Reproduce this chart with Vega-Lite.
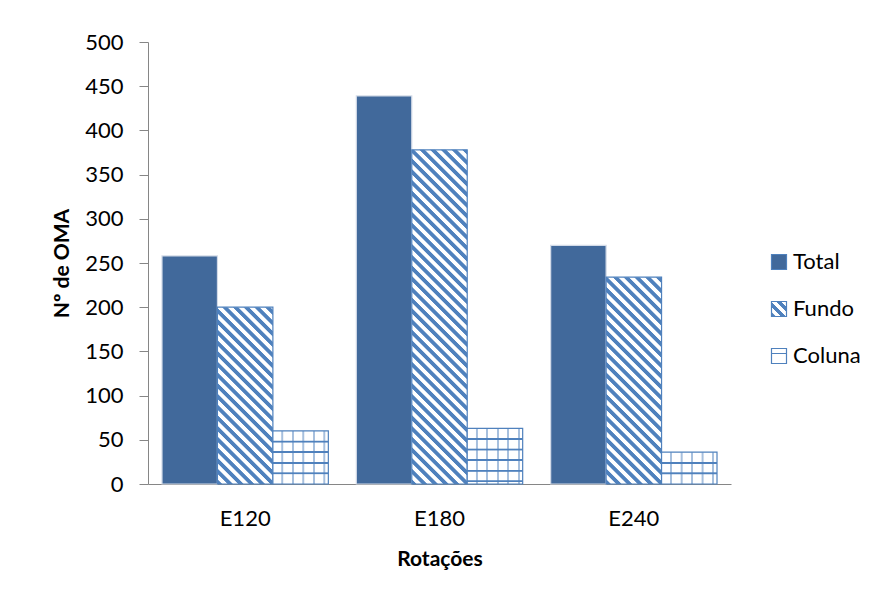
{
  "$schema": "https://vega.github.io/schema/vega-lite/v6.json",
  "width": 583,
  "height": 442,
  "autosize": {"type": "none"},
  "padding": {"left": 148, "top": 42, "right": 150, "bottom": 114},
  "background": "#ffffff",
  "config": {
    "view": {"stroke": null},
    "font": "Lato",
    "axis": {
      "domainColor": "#868686",
      "domainWidth": 1,
      "tickColor": "#868686",
      "labelColor": "#000000",
      "labelFont": "Lato",
      "labelFontSize": 22,
      "titleColor": "#000000",
      "titleFont": "Lato",
      "titleFontSize": 21,
      "titleFontWeight": "bold",
      "grid": false
    }
  },
  "data": {
    "values": [
      {"Rotacao": "E120", "Serie": "Total", "OMA": 258},
      {"Rotacao": "E120", "Serie": "Fundo", "OMA": 200},
      {"Rotacao": "E120", "Serie": "Coluna", "OMA": 60},
      {"Rotacao": "E180", "Serie": "Total", "OMA": 439},
      {"Rotacao": "E180", "Serie": "Fundo", "OMA": 378},
      {"Rotacao": "E180", "Serie": "Coluna", "OMA": 63},
      {"Rotacao": "E240", "Serie": "Total", "OMA": 270},
      {"Rotacao": "E240", "Serie": "Fundo", "OMA": 234},
      {"Rotacao": "E240", "Serie": "Coluna", "OMA": 36}
    ]
  },
  "encoding": {
    "x": {
      "field": "Rotacao",
      "type": "nominal",
      "sort": ["E120", "E180", "E240"],
      "scale": {"paddingInner": 0.144, "paddingOuter": 0.072},
      "axis": {
        "title": "Rotações",
        "labelAngle": 0,
        "ticks": false,
        "tickSize": 0,
        "labelPadding": 24,
        "titlePadding": 19
      }
    },
    "xOffset": {
      "field": "Serie",
      "type": "nominal",
      "sort": ["Total", "Fundo", "Coluna"],
      "scale": {"paddingInner": 0, "paddingOuter": 0}
    },
    "y": {
      "field": "OMA",
      "type": "quantitative",
      "scale": {"domain": [0, 500], "nice": false},
      "axis": {
        "title": "Nº de OMA",
        "values": [0, 50, 100, 150, 200, 250, 300, 350, 400, 450, 500],
        "tickSize": 9,
        "labelPadding": 16,
        "titlePadding": 12
      }
    }
  },
  "layer": [
    {
      "mark": {"type": "bar", "strokeWidth": 1.2},
      "encoding": {
        "stroke": {
          "condition": {"test": "datum.Serie === 'Total'", "value": "#d3dbe8"},
          "value": "#4f81bd"
        },
        "fill": {
          "field": "Serie",
          "type": "nominal",
          "sort": ["Total", "Fundo", "Coluna"],
          "scale": {
            "domain": ["Total", "Fundo", "Coluna"],
            "range": [
              "#41699b",
              {"expr": "{gradient: 'linear', x1: 0, y1: 1, x2: 1, y2: 0, stops: [{offset: 0, color: '#4f81bd'}, {offset: 0.13, color: '#4f81bd'}, {offset: 0.17, color: '#ffffff'}, {offset: 0.3, color: '#ffffff'}, {offset: 0.333, color: '#4f81bd'}, {offset: 0.467, color: '#4f81bd'}, {offset: 0.5, color: '#ffffff'}, {offset: 0.633, color: '#ffffff'}, {offset: 0.667, color: '#4f81bd'}, {offset: 0.8, color: '#4f81bd'}, {offset: 0.833, color: '#ffffff'}, {offset: 0.967, color: '#ffffff'}, {offset: 1, color: '#4f81bd'}]}"},
              {"expr": "{gradient: 'linear', x1: 0, y1: 0, x2: 0, y2: 1, stops: [{offset: 0, color: '#ffffff'}, {offset: 0.28, color: '#ffffff'}, {offset: 0.3, color: '#4f81bd'}, {offset: 0.38, color: '#4f81bd'}, {offset: 0.4, color: '#ffffff'}, {offset: 1, color: '#ffffff'}]}"}
            ]
          },
          "legend": {
            "title": null,
            "orient": "none",
            "legendX": 620,
            "legendY": 209,
            "padding": 0,
            "symbolType": "square",
            "symbolSize": 225,
            "symbolStrokeWidth": 1.2,
            "labelFont": "Lato",
            "labelFontSize": 22,
            "labelColor": "#000000",
            "labelOffset": 3,
            "rowPadding": 25,
            "encode": {
              "symbols": {
                "stroke": {
                  "condition": {"test": "datum.value === 'Total'", "value": "#41699b"},
                  "value": "#4f81bd"
                },
                "strokeWidth": {"value": 1.2}
              }
            }
          },
          "condition": [
            {"test": "datum.Serie === 'Fundo' && datum.Rotacao === 'E120'", "value": {"gradient": "linear", "x1": 0, "y1": 1, "x2": 0.4317, "y2": -0.3778, "stops": [
              {"offset": 0, "color": "#4f81bd"}, {"offset": 0.016, "color": "#4f81bd"}, {"offset": 0.02, "color": "#ffffff"}, {"offset": 0.036, "color": "#ffffff"},
              {"offset": 0.04, "color": "#4f81bd"}, {"offset": 0.056, "color": "#4f81bd"}, {"offset": 0.06, "color": "#ffffff"}, {"offset": 0.076, "color": "#ffffff"},
              {"offset": 0.08, "color": "#4f81bd"}, {"offset": 0.096, "color": "#4f81bd"}, {"offset": 0.1, "color": "#ffffff"}, {"offset": 0.116, "color": "#ffffff"},
              {"offset": 0.12, "color": "#4f81bd"}, {"offset": 0.136, "color": "#4f81bd"}, {"offset": 0.14, "color": "#ffffff"}, {"offset": 0.156, "color": "#ffffff"},
              {"offset": 0.16, "color": "#4f81bd"}, {"offset": 0.176, "color": "#4f81bd"}, {"offset": 0.18, "color": "#ffffff"}, {"offset": 0.196, "color": "#ffffff"},
              {"offset": 0.2, "color": "#4f81bd"}, {"offset": 0.216, "color": "#4f81bd"}, {"offset": 0.22, "color": "#ffffff"}, {"offset": 0.236, "color": "#ffffff"},
              {"offset": 0.24, "color": "#4f81bd"}, {"offset": 0.256, "color": "#4f81bd"}, {"offset": 0.26, "color": "#ffffff"}, {"offset": 0.276, "color": "#ffffff"},
              {"offset": 0.28, "color": "#4f81bd"}, {"offset": 0.296, "color": "#4f81bd"}, {"offset": 0.3, "color": "#ffffff"}, {"offset": 0.316, "color": "#ffffff"},
              {"offset": 0.32, "color": "#4f81bd"}, {"offset": 0.336, "color": "#4f81bd"}, {"offset": 0.34, "color": "#ffffff"}, {"offset": 0.356, "color": "#ffffff"},
              {"offset": 0.36, "color": "#4f81bd"}, {"offset": 0.376, "color": "#4f81bd"}, {"offset": 0.38, "color": "#ffffff"}, {"offset": 0.396, "color": "#ffffff"},
              {"offset": 0.4, "color": "#4f81bd"}, {"offset": 0.416, "color": "#4f81bd"}, {"offset": 0.42, "color": "#ffffff"}, {"offset": 0.436, "color": "#ffffff"},
              {"offset": 0.44, "color": "#4f81bd"}, {"offset": 0.456, "color": "#4f81bd"}, {"offset": 0.46, "color": "#ffffff"}, {"offset": 0.476, "color": "#ffffff"},
              {"offset": 0.48, "color": "#4f81bd"}, {"offset": 0.496, "color": "#4f81bd"}, {"offset": 0.5, "color": "#ffffff"}, {"offset": 0.516, "color": "#ffffff"},
              {"offset": 0.52, "color": "#4f81bd"}, {"offset": 0.536, "color": "#4f81bd"}, {"offset": 0.54, "color": "#ffffff"}, {"offset": 0.556, "color": "#ffffff"},
              {"offset": 0.56, "color": "#4f81bd"}, {"offset": 0.576, "color": "#4f81bd"}, {"offset": 0.58, "color": "#ffffff"}, {"offset": 0.596, "color": "#ffffff"},
              {"offset": 0.6, "color": "#4f81bd"}, {"offset": 0.616, "color": "#4f81bd"}, {"offset": 0.62, "color": "#ffffff"}, {"offset": 0.636, "color": "#ffffff"},
              {"offset": 0.64, "color": "#4f81bd"}, {"offset": 0.656, "color": "#4f81bd"}, {"offset": 0.66, "color": "#ffffff"}, {"offset": 0.676, "color": "#ffffff"},
              {"offset": 0.68, "color": "#4f81bd"}, {"offset": 0.696, "color": "#4f81bd"}, {"offset": 0.7, "color": "#ffffff"}, {"offset": 0.716, "color": "#ffffff"},
              {"offset": 0.72, "color": "#4f81bd"}, {"offset": 0.736, "color": "#4f81bd"}, {"offset": 0.74, "color": "#ffffff"}, {"offset": 0.756, "color": "#ffffff"},
              {"offset": 0.76, "color": "#4f81bd"}, {"offset": 0.776, "color": "#4f81bd"}, {"offset": 0.78, "color": "#ffffff"}, {"offset": 0.796, "color": "#ffffff"},
              {"offset": 0.8, "color": "#4f81bd"}, {"offset": 0.816, "color": "#4f81bd"}, {"offset": 0.82, "color": "#ffffff"}, {"offset": 0.836, "color": "#ffffff"},
              {"offset": 0.84, "color": "#4f81bd"}, {"offset": 0.856, "color": "#4f81bd"}, {"offset": 0.86, "color": "#ffffff"}, {"offset": 0.876, "color": "#ffffff"},
              {"offset": 0.88, "color": "#4f81bd"}, {"offset": 0.896, "color": "#4f81bd"}, {"offset": 0.9, "color": "#ffffff"}, {"offset": 0.916, "color": "#ffffff"},
              {"offset": 0.92, "color": "#4f81bd"}, {"offset": 0.936, "color": "#4f81bd"}, {"offset": 0.94, "color": "#ffffff"}, {"offset": 0.956, "color": "#ffffff"},
              {"offset": 0.96, "color": "#4f81bd"}, {"offset": 0.976, "color": "#4f81bd"}, {"offset": 0.98, "color": "#ffffff"}, {"offset": 0.996, "color": "#ffffff"},
              {"offset": 1, "color": "#4f81bd"}]}},
            {"test": "datum.Serie === 'Fundo' && datum.Rotacao === 'E240'", "value": {"gradient": "linear", "x1": 0, "y1": 1, "x2": 0.323, "y2": -0.2064, "stops": [
              {"offset": 0, "color": "#4f81bd"}, {"offset": 0.016, "color": "#4f81bd"}, {"offset": 0.02, "color": "#ffffff"}, {"offset": 0.036, "color": "#ffffff"},
              {"offset": 0.04, "color": "#4f81bd"}, {"offset": 0.056, "color": "#4f81bd"}, {"offset": 0.06, "color": "#ffffff"}, {"offset": 0.076, "color": "#ffffff"},
              {"offset": 0.08, "color": "#4f81bd"}, {"offset": 0.096, "color": "#4f81bd"}, {"offset": 0.1, "color": "#ffffff"}, {"offset": 0.116, "color": "#ffffff"},
              {"offset": 0.12, "color": "#4f81bd"}, {"offset": 0.136, "color": "#4f81bd"}, {"offset": 0.14, "color": "#ffffff"}, {"offset": 0.156, "color": "#ffffff"},
              {"offset": 0.16, "color": "#4f81bd"}, {"offset": 0.176, "color": "#4f81bd"}, {"offset": 0.18, "color": "#ffffff"}, {"offset": 0.196, "color": "#ffffff"},
              {"offset": 0.2, "color": "#4f81bd"}, {"offset": 0.216, "color": "#4f81bd"}, {"offset": 0.22, "color": "#ffffff"}, {"offset": 0.236, "color": "#ffffff"},
              {"offset": 0.24, "color": "#4f81bd"}, {"offset": 0.256, "color": "#4f81bd"}, {"offset": 0.26, "color": "#ffffff"}, {"offset": 0.276, "color": "#ffffff"},
              {"offset": 0.28, "color": "#4f81bd"}, {"offset": 0.296, "color": "#4f81bd"}, {"offset": 0.3, "color": "#ffffff"}, {"offset": 0.316, "color": "#ffffff"},
              {"offset": 0.32, "color": "#4f81bd"}, {"offset": 0.336, "color": "#4f81bd"}, {"offset": 0.34, "color": "#ffffff"}, {"offset": 0.356, "color": "#ffffff"},
              {"offset": 0.36, "color": "#4f81bd"}, {"offset": 0.376, "color": "#4f81bd"}, {"offset": 0.38, "color": "#ffffff"}, {"offset": 0.396, "color": "#ffffff"},
              {"offset": 0.4, "color": "#4f81bd"}, {"offset": 0.416, "color": "#4f81bd"}, {"offset": 0.42, "color": "#ffffff"}, {"offset": 0.436, "color": "#ffffff"},
              {"offset": 0.44, "color": "#4f81bd"}, {"offset": 0.456, "color": "#4f81bd"}, {"offset": 0.46, "color": "#ffffff"}, {"offset": 0.476, "color": "#ffffff"},
              {"offset": 0.48, "color": "#4f81bd"}, {"offset": 0.496, "color": "#4f81bd"}, {"offset": 0.5, "color": "#ffffff"}, {"offset": 0.516, "color": "#ffffff"},
              {"offset": 0.52, "color": "#4f81bd"}, {"offset": 0.536, "color": "#4f81bd"}, {"offset": 0.54, "color": "#ffffff"}, {"offset": 0.556, "color": "#ffffff"},
              {"offset": 0.56, "color": "#4f81bd"}, {"offset": 0.576, "color": "#4f81bd"}, {"offset": 0.58, "color": "#ffffff"}, {"offset": 0.596, "color": "#ffffff"},
              {"offset": 0.6, "color": "#4f81bd"}, {"offset": 0.616, "color": "#4f81bd"}, {"offset": 0.62, "color": "#ffffff"}, {"offset": 0.636, "color": "#ffffff"},
              {"offset": 0.64, "color": "#4f81bd"}, {"offset": 0.656, "color": "#4f81bd"}, {"offset": 0.66, "color": "#ffffff"}, {"offset": 0.676, "color": "#ffffff"},
              {"offset": 0.68, "color": "#4f81bd"}, {"offset": 0.696, "color": "#4f81bd"}, {"offset": 0.7, "color": "#ffffff"}, {"offset": 0.716, "color": "#ffffff"},
              {"offset": 0.72, "color": "#4f81bd"}, {"offset": 0.736, "color": "#4f81bd"}, {"offset": 0.74, "color": "#ffffff"}, {"offset": 0.756, "color": "#ffffff"},
              {"offset": 0.76, "color": "#4f81bd"}, {"offset": 0.776, "color": "#4f81bd"}, {"offset": 0.78, "color": "#ffffff"}, {"offset": 0.796, "color": "#ffffff"},
              {"offset": 0.8, "color": "#4f81bd"}, {"offset": 0.816, "color": "#4f81bd"}, {"offset": 0.82, "color": "#ffffff"}, {"offset": 0.836, "color": "#ffffff"},
              {"offset": 0.84, "color": "#4f81bd"}, {"offset": 0.856, "color": "#4f81bd"}, {"offset": 0.86, "color": "#ffffff"}, {"offset": 0.876, "color": "#ffffff"},
              {"offset": 0.88, "color": "#4f81bd"}, {"offset": 0.896, "color": "#4f81bd"}, {"offset": 0.9, "color": "#ffffff"}, {"offset": 0.916, "color": "#ffffff"},
              {"offset": 0.92, "color": "#4f81bd"}, {"offset": 0.936, "color": "#4f81bd"}, {"offset": 0.94, "color": "#ffffff"}, {"offset": 0.956, "color": "#ffffff"},
              {"offset": 0.96, "color": "#4f81bd"}, {"offset": 0.976, "color": "#4f81bd"}, {"offset": 0.98, "color": "#ffffff"}, {"offset": 0.996, "color": "#ffffff"},
              {"offset": 1, "color": "#4f81bd"}]}},
            {"test": "datum.Serie === 'Fundo' && datum.Rotacao === 'E180'", "value": {"gradient": "linear", "x1": 0, "y1": 1, "x2": 0.2066, "y2": -0.2464, "stops": [
              {"offset": 0, "color": "#4f81bd"}, {"offset": 0.01, "color": "#4f81bd"}, {"offset": 0.0125, "color": "#ffffff"}, {"offset": 0.0225, "color": "#ffffff"},
              {"offset": 0.025, "color": "#4f81bd"}, {"offset": 0.035, "color": "#4f81bd"}, {"offset": 0.0375, "color": "#ffffff"}, {"offset": 0.0475, "color": "#ffffff"},
              {"offset": 0.05, "color": "#4f81bd"}, {"offset": 0.06, "color": "#4f81bd"}, {"offset": 0.0625, "color": "#ffffff"}, {"offset": 0.0725, "color": "#ffffff"},
              {"offset": 0.075, "color": "#4f81bd"}, {"offset": 0.085, "color": "#4f81bd"}, {"offset": 0.0875, "color": "#ffffff"}, {"offset": 0.0975, "color": "#ffffff"},
              {"offset": 0.1, "color": "#4f81bd"}, {"offset": 0.11, "color": "#4f81bd"}, {"offset": 0.1125, "color": "#ffffff"}, {"offset": 0.1225, "color": "#ffffff"},
              {"offset": 0.125, "color": "#4f81bd"}, {"offset": 0.135, "color": "#4f81bd"}, {"offset": 0.1375, "color": "#ffffff"}, {"offset": 0.1475, "color": "#ffffff"},
              {"offset": 0.15, "color": "#4f81bd"}, {"offset": 0.16, "color": "#4f81bd"}, {"offset": 0.1625, "color": "#ffffff"}, {"offset": 0.1725, "color": "#ffffff"},
              {"offset": 0.175, "color": "#4f81bd"}, {"offset": 0.185, "color": "#4f81bd"}, {"offset": 0.1875, "color": "#ffffff"}, {"offset": 0.1975, "color": "#ffffff"},
              {"offset": 0.2, "color": "#4f81bd"}, {"offset": 0.21, "color": "#4f81bd"}, {"offset": 0.2125, "color": "#ffffff"}, {"offset": 0.2225, "color": "#ffffff"},
              {"offset": 0.225, "color": "#4f81bd"}, {"offset": 0.235, "color": "#4f81bd"}, {"offset": 0.2375, "color": "#ffffff"}, {"offset": 0.2475, "color": "#ffffff"},
              {"offset": 0.25, "color": "#4f81bd"}, {"offset": 0.26, "color": "#4f81bd"}, {"offset": 0.2625, "color": "#ffffff"}, {"offset": 0.2725, "color": "#ffffff"},
              {"offset": 0.275, "color": "#4f81bd"}, {"offset": 0.285, "color": "#4f81bd"}, {"offset": 0.2875, "color": "#ffffff"}, {"offset": 0.2975, "color": "#ffffff"},
              {"offset": 0.3, "color": "#4f81bd"}, {"offset": 0.31, "color": "#4f81bd"}, {"offset": 0.3125, "color": "#ffffff"}, {"offset": 0.3225, "color": "#ffffff"},
              {"offset": 0.325, "color": "#4f81bd"}, {"offset": 0.335, "color": "#4f81bd"}, {"offset": 0.3375, "color": "#ffffff"}, {"offset": 0.3475, "color": "#ffffff"},
              {"offset": 0.35, "color": "#4f81bd"}, {"offset": 0.36, "color": "#4f81bd"}, {"offset": 0.3625, "color": "#ffffff"}, {"offset": 0.3725, "color": "#ffffff"},
              {"offset": 0.375, "color": "#4f81bd"}, {"offset": 0.385, "color": "#4f81bd"}, {"offset": 0.3875, "color": "#ffffff"}, {"offset": 0.3975, "color": "#ffffff"},
              {"offset": 0.4, "color": "#4f81bd"}, {"offset": 0.41, "color": "#4f81bd"}, {"offset": 0.4125, "color": "#ffffff"}, {"offset": 0.4225, "color": "#ffffff"},
              {"offset": 0.425, "color": "#4f81bd"}, {"offset": 0.435, "color": "#4f81bd"}, {"offset": 0.4375, "color": "#ffffff"}, {"offset": 0.4475, "color": "#ffffff"},
              {"offset": 0.45, "color": "#4f81bd"}, {"offset": 0.46, "color": "#4f81bd"}, {"offset": 0.4625, "color": "#ffffff"}, {"offset": 0.4725, "color": "#ffffff"},
              {"offset": 0.475, "color": "#4f81bd"}, {"offset": 0.485, "color": "#4f81bd"}, {"offset": 0.4875, "color": "#ffffff"}, {"offset": 0.4975, "color": "#ffffff"},
              {"offset": 0.5, "color": "#4f81bd"}, {"offset": 0.51, "color": "#4f81bd"}, {"offset": 0.5125, "color": "#ffffff"}, {"offset": 0.5225, "color": "#ffffff"},
              {"offset": 0.525, "color": "#4f81bd"}, {"offset": 0.535, "color": "#4f81bd"}, {"offset": 0.5375, "color": "#ffffff"}, {"offset": 0.5475, "color": "#ffffff"},
              {"offset": 0.55, "color": "#4f81bd"}, {"offset": 0.56, "color": "#4f81bd"}, {"offset": 0.5625, "color": "#ffffff"}, {"offset": 0.5725, "color": "#ffffff"},
              {"offset": 0.575, "color": "#4f81bd"}, {"offset": 0.585, "color": "#4f81bd"}, {"offset": 0.5875, "color": "#ffffff"}, {"offset": 0.5975, "color": "#ffffff"},
              {"offset": 0.6, "color": "#4f81bd"}, {"offset": 0.61, "color": "#4f81bd"}, {"offset": 0.6125, "color": "#ffffff"}, {"offset": 0.6225, "color": "#ffffff"},
              {"offset": 0.625, "color": "#4f81bd"}, {"offset": 0.635, "color": "#4f81bd"}, {"offset": 0.6375, "color": "#ffffff"}, {"offset": 0.6475, "color": "#ffffff"},
              {"offset": 0.65, "color": "#4f81bd"}, {"offset": 0.66, "color": "#4f81bd"}, {"offset": 0.6625, "color": "#ffffff"}, {"offset": 0.6725, "color": "#ffffff"},
              {"offset": 0.675, "color": "#4f81bd"}, {"offset": 0.685, "color": "#4f81bd"}, {"offset": 0.6875, "color": "#ffffff"}, {"offset": 0.6975, "color": "#ffffff"},
              {"offset": 0.7, "color": "#4f81bd"}, {"offset": 0.71, "color": "#4f81bd"}, {"offset": 0.7125, "color": "#ffffff"}, {"offset": 0.7225, "color": "#ffffff"},
              {"offset": 0.725, "color": "#4f81bd"}, {"offset": 0.735, "color": "#4f81bd"}, {"offset": 0.7375, "color": "#ffffff"}, {"offset": 0.7475, "color": "#ffffff"},
              {"offset": 0.75, "color": "#4f81bd"}, {"offset": 0.76, "color": "#4f81bd"}, {"offset": 0.7625, "color": "#ffffff"}, {"offset": 0.7725, "color": "#ffffff"},
              {"offset": 0.775, "color": "#4f81bd"}, {"offset": 0.785, "color": "#4f81bd"}, {"offset": 0.7875, "color": "#ffffff"}, {"offset": 0.7975, "color": "#ffffff"},
              {"offset": 0.8, "color": "#4f81bd"}, {"offset": 0.81, "color": "#4f81bd"}, {"offset": 0.8125, "color": "#ffffff"}, {"offset": 0.8225, "color": "#ffffff"},
              {"offset": 0.825, "color": "#4f81bd"}, {"offset": 0.835, "color": "#4f81bd"}, {"offset": 0.8375, "color": "#ffffff"}, {"offset": 0.8475, "color": "#ffffff"},
              {"offset": 0.85, "color": "#4f81bd"}, {"offset": 0.86, "color": "#4f81bd"}, {"offset": 0.8625, "color": "#ffffff"}, {"offset": 0.8725, "color": "#ffffff"},
              {"offset": 0.875, "color": "#4f81bd"}, {"offset": 0.885, "color": "#4f81bd"}, {"offset": 0.8875, "color": "#ffffff"}, {"offset": 0.8975, "color": "#ffffff"},
              {"offset": 0.9, "color": "#4f81bd"}, {"offset": 0.91, "color": "#4f81bd"}, {"offset": 0.9125, "color": "#ffffff"}, {"offset": 0.9225, "color": "#ffffff"},
              {"offset": 0.925, "color": "#4f81bd"}, {"offset": 0.935, "color": "#4f81bd"}, {"offset": 0.9375, "color": "#ffffff"}, {"offset": 0.9475, "color": "#ffffff"},
              {"offset": 0.95, "color": "#4f81bd"}, {"offset": 0.96, "color": "#4f81bd"}, {"offset": 0.9625, "color": "#ffffff"}, {"offset": 0.9725, "color": "#ffffff"},
              {"offset": 0.975, "color": "#4f81bd"}, {"offset": 0.985, "color": "#4f81bd"}, {"offset": 0.9875, "color": "#ffffff"}, {"offset": 0.9975, "color": "#ffffff"},
              {"offset": 1, "color": "#4f81bd"}]}},
            {"test": "datum.Serie === 'Coluna' && datum.Rotacao === 'E120'", "value": {"gradient": "linear", "x1": 0, "y1": 0, "x2": 0, "y2": 1, "stops": [
              {"offset": 0, "color": "#ffffff"},
              {"offset": 0.178, "color": "#ffffff"}, {"offset": 0.186, "color": "#4f81bd"}, {"offset": 0.214, "color": "#4f81bd"}, {"offset": 0.222, "color": "#ffffff"},
              {"offset": 0.378, "color": "#ffffff"}, {"offset": 0.386, "color": "#4f81bd"}, {"offset": 0.414, "color": "#4f81bd"}, {"offset": 0.422, "color": "#ffffff"},
              {"offset": 0.578, "color": "#ffffff"}, {"offset": 0.586, "color": "#4f81bd"}, {"offset": 0.614, "color": "#4f81bd"}, {"offset": 0.622, "color": "#ffffff"},
              {"offset": 0.778, "color": "#ffffff"}, {"offset": 0.786, "color": "#4f81bd"}, {"offset": 0.814, "color": "#4f81bd"}, {"offset": 0.822, "color": "#ffffff"},
              {"offset": 1, "color": "#ffffff"}]}},
            {"test": "datum.Serie === 'Coluna' && datum.Rotacao === 'E180'", "value": {"gradient": "linear", "x1": 0, "y1": 0, "x2": 0, "y2": 1, "stops": [
              {"offset": 0, "color": "#ffffff"},
              {"offset": 0.169, "color": "#ffffff"}, {"offset": 0.177, "color": "#4f81bd"}, {"offset": 0.203, "color": "#4f81bd"}, {"offset": 0.211, "color": "#ffffff"},
              {"offset": 0.36, "color": "#ffffff"}, {"offset": 0.368, "color": "#4f81bd"}, {"offset": 0.394, "color": "#4f81bd"}, {"offset": 0.402, "color": "#ffffff"},
              {"offset": 0.55, "color": "#ffffff"}, {"offset": 0.558, "color": "#4f81bd"}, {"offset": 0.584, "color": "#4f81bd"}, {"offset": 0.592, "color": "#ffffff"},
              {"offset": 0.74, "color": "#ffffff"}, {"offset": 0.748, "color": "#4f81bd"}, {"offset": 0.774, "color": "#4f81bd"}, {"offset": 0.782, "color": "#ffffff"},
              {"offset": 0.931, "color": "#ffffff"}, {"offset": 0.939, "color": "#4f81bd"}, {"offset": 0.965, "color": "#4f81bd"}, {"offset": 0.973, "color": "#ffffff"},
              {"offset": 1, "color": "#ffffff"}]}},
            {"test": "datum.Serie === 'Coluna' && datum.Rotacao === 'E240'", "value": {"gradient": "linear", "x1": 0, "y1": 0, "x2": 0, "y2": 1, "stops": [
              {"offset": 0, "color": "#ffffff"},
              {"offset": 0.295, "color": "#ffffff"}, {"offset": 0.309, "color": "#4f81bd"}, {"offset": 0.357, "color": "#4f81bd"}, {"offset": 0.371, "color": "#ffffff"},
              {"offset": 0.629, "color": "#ffffff"}, {"offset": 0.643, "color": "#4f81bd"}, {"offset": 0.691, "color": "#4f81bd"}, {"offset": 0.705, "color": "#ffffff"},
              {"offset": 1, "color": "#ffffff"}]}}
          ]
        }
      }
    },
    {
      "transform": [{"filter": "datum.Serie === 'Coluna'"}],
      "mark": {
        "type": "bar",
        "strokeWidth": 0,
        "fill": {"gradient": "linear", "x1": 0, "y1": 0, "x2": 1, "y2": 0, "stops": [
          {"offset": 0, "color": "rgba(79,129,189,0)"},
          {"offset": 0.149, "color": "rgba(79,129,189,0)"}, {"offset": 0.157, "color": "rgba(79,129,189,0.5)"}, {"offset": 0.185, "color": "rgba(79,129,189,0.5)"}, {"offset": 0.193, "color": "rgba(79,129,189,0)"},
          {"offset": 0.339, "color": "rgba(79,129,189,0)"}, {"offset": 0.347, "color": "rgba(79,129,189,0.5)"}, {"offset": 0.375, "color": "rgba(79,129,189,0.5)"}, {"offset": 0.383, "color": "rgba(79,129,189,0)"},
          {"offset": 0.528, "color": "rgba(79,129,189,0)"}, {"offset": 0.536, "color": "rgba(79,129,189,0.5)"}, {"offset": 0.564, "color": "rgba(79,129,189,0.5)"}, {"offset": 0.572, "color": "rgba(79,129,189,0)"},
          {"offset": 0.717, "color": "rgba(79,129,189,0)"}, {"offset": 0.725, "color": "rgba(79,129,189,0.5)"}, {"offset": 0.753, "color": "rgba(79,129,189,0.5)"}, {"offset": 0.761, "color": "rgba(79,129,189,0)"},
          {"offset": 0.907, "color": "rgba(79,129,189,0)"}, {"offset": 0.915, "color": "rgba(79,129,189,0.5)"}, {"offset": 0.943, "color": "rgba(79,129,189,0.5)"}, {"offset": 0.951, "color": "rgba(79,129,189,0)"},
          {"offset": 1, "color": "rgba(79,129,189,0)"}]}
      }
    }
  ]
}
